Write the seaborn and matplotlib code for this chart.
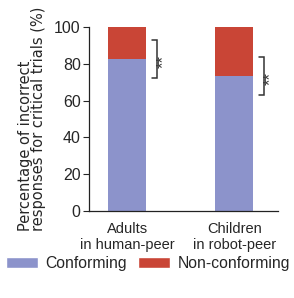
import matplotlib
matplotlib.use("Agg")
import matplotlib.pyplot as plt
import pandas as pd
import seaborn as sns
from matplotlib.patches import Patch

groups = ["Adults\nin human-peer", "Children\nin robot-peer"]
conforming = [82.6, 73.4]
total = [100, 100]
sig_labels = ["**", "**"]

BLUE = "#8c93cb"
RED = "#c94536"

df = pd.DataFrame({"group": groups, "conforming": conforming, "total": total})

sns.set_theme(style="ticks")
plt.rcParams["font.family"] = ["Liberation Sans", "DejaVu Sans"]

fig = plt.figure(figsize=(2.94, 2.98), dpi=100)
ax = fig.add_axes([0.303, 0.292, 0.643, 0.617])

width = 0.355
sns.barplot(data=df, x="group", y="total", color=RED, width=width, saturation=1, ax=ax)
sns.barplot(data=df, x="group", y="conforming", color=BLUE, width=width, saturation=1, ax=ax)
for p in ax.patches:
    p.set_edgecolor("none")

# significance brackets around the conforming boundary
half = 10.5
for i, c in enumerate(conforming):
    x0 = i + width / 2 + 0.056
    x1 = x0 + 0.045
    ax.plot([x0, x1, x1, x0], [c + half, c + half, c - half, c - half],
            color="#333333", lw=1.1, solid_joinstyle="miter")
    ax.text(x1 + 0.06, c - 1.5, sig_labels[i], rotation=90, ha="center", va="center",
            fontsize=12, color="#333333")

ax.set_xlim(-0.355, 1.41)
ax.set_ylim(0, 100)
ax.set_yticks([0, 20, 40, 60, 80, 100])
ax.tick_params(axis="y", labelsize=11.5, length=4, width=0.8, pad=2)
ax.tick_params(axis="x", labelsize=10.5, length=0, pad=8)
ax.set_xlabel("")
ax.set_ylabel("Percentage of incorrect\nresponses for critical trials (%)", fontsize=10.5,
              family=["DejaVu Sans"], linespacing=0.85, multialignment="left", labelpad=6)
for s in ["top", "right"]:
    ax.spines[s].set_visible(False)
for s in ["left", "bottom"]:
    ax.spines[s].set_linewidth(0.9)
    ax.spines[s].set_color("#222222")

handles = [Patch(facecolor=BLUE, label="Conforming"), Patch(facecolor=RED, label="Non-conforming")]
fig.legend(handles=handles, loc="center", bbox_to_anchor=(0.503, 0.115), ncol=2, frameon=False,
           fontsize=11.3, handlelength=2.04, handleheight=0.7, columnspacing=0.76,
           handletextpad=0.45, borderpad=0, borderaxespad=0)

fig.savefig("out.png", dpi=100)
